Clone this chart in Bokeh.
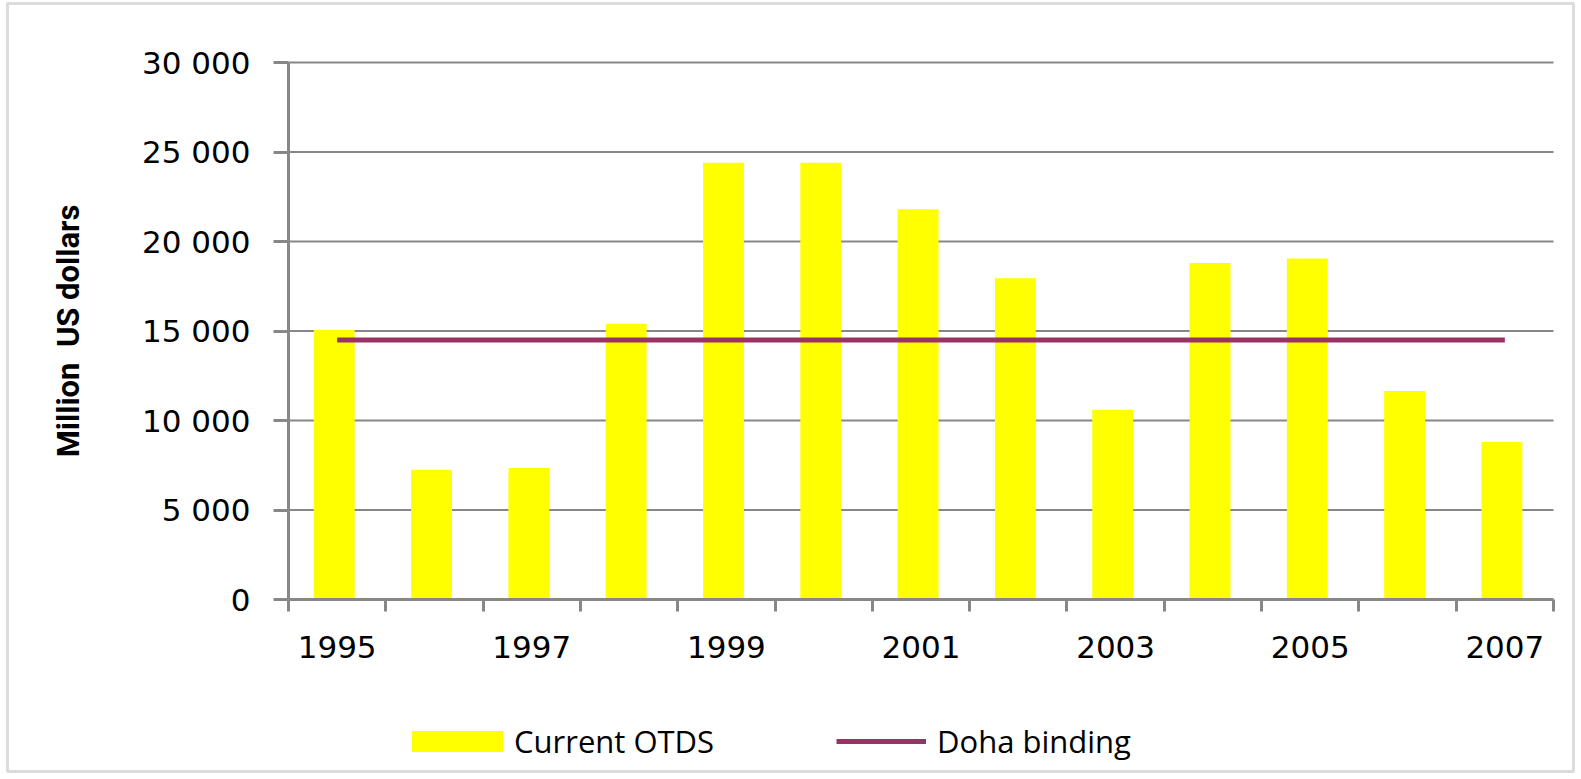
from bokeh.plotting import figure
from bokeh.models import (ColumnDataSource, FixedTicker, Legend, LegendItem,
                          BoxAnnotation)
from bokeh.transform import dodge
from bokeh.embed import file_html
from bokeh.resources import INLINE

# ---- data ----
years = [1995, 1996, 1997, 1998, 1999, 2000, 2001, 2002, 2003, 2004, 2005, 2006, 2007]
current_otds = [15050, 7250, 7350, 15400, 24400, 24400, 21800, 17950, 10600, 18800, 19050, 11650, 8800]
doha_binding = [14500] * len(years)
y_ticks = [0, 5000, 10000, 15000, 20000, 25000, 30000]
y_tick_labels = ["0", "5 000", "10 000", "15 000", "20 000", "25 000", "30 000"]
x_label_years = [1995, 1997, 1999, 2001, 2003, 2005, 2007]
y_title = "Million\u00a0 US dollars"
series_names = ["Current OTDS", "Doha binding"]

# ---- layout (pixels) ----
W, H = 1578, 778
PX_LEFT, PX_RIGHT, PX_TOP, PX_ZERO = 288, 1553, 62, 599
GRAY = "#878787"

x_lo, x_hi = years[0] - 0.5, years[-1] + 0.5
y_lo, y_hi = y_ticks[0], y_ticks[-1]
ux = (x_hi - x_lo) / (PX_RIGHT - PX_LEFT)      # data units per pixel
uy = (y_hi - y_lo) / (PX_ZERO - PX_TOP)
x_range = (x_lo - PX_LEFT * ux, x_hi + (W - PX_RIGHT) * ux)
y_range = (y_lo - (H - PX_ZERO) * uy, y_hi + PX_TOP * uy)

src = ColumnDataSource(dict(year=years, otds=current_otds, doha=doha_binding))
grid_src = ColumnDataSource(dict(y=y_ticks[1:], x0=[x_lo] * (len(y_ticks) - 1),
                                 x1=[x_hi] * (len(y_ticks) - 1)))

p = figure(width=W, height=H, output_backend="svg", toolbar_location=None,
           x_range=x_range, y_range=y_range,
           min_border=0, min_border_left=0, min_border_right=0,
           min_border_top=0, min_border_bottom=0,
           outline_line_color=None,
           background_fill_color="white", border_fill_color="white")
p.xgrid.visible = False
p.ygrid.visible = False

# horizontal gridlines
p.segment(x0="x0", x1="x1", y0="y", y1="y", source=grid_src,
          line_color=GRAY, line_width=2)

bars = p.vbar(x=dodge("year", -0.03, range=p.x_range), top="otds", width=0.42,
              source=src, fill_color="#FFFF00", line_color=None)
line = p.line(x="year", y="doha", source=src, line_color="#993366", line_width=5)

# y axis
ya = p.yaxis[0]
ya.fixed_location = x_lo
ya.bounds = (y_lo, y_hi)
ya.ticker = FixedTicker(ticks=y_ticks)
ya.major_label_overrides = {t: l for t, l in zip(y_ticks, y_tick_labels)}
ya.axis_line_color = GRAY
ya.axis_line_width = 3
ya.major_tick_line_color = GRAY
ya.major_tick_line_width = 3
ya.major_tick_out = 15
ya.major_tick_in = 0
ya.minor_tick_line_color = None
ya.major_label_text_font = "DejaVu Sans"
ya.major_label_text_font_size = "31px"
ya.major_label_text_color = "black"
ya.major_label_standoff = 23
ya.axis_label = y_title
ya.axis_label_text_font = "'Liberation Sans Narrow', 'Roboto', sans-serif"
ya.axis_label_text_font_style = "bold"
ya.axis_label_text_font_size = "31px"
ya.axis_label_text_color = "black"
ya.axis_label_standoff = 52

# x axis: labels at centres of odd years, ticks at category boundaries
xa = p.xaxis[0]
xa.fixed_location = y_lo
xa.bounds = (x_lo, x_hi)
xa.ticker = FixedTicker(ticks=x_label_years,
                        minor_ticks=[y - 0.5 for y in years] + [years[-1] + 0.5])
xa.major_label_overrides = {y: str(y) for y in x_label_years}
xa.axis_line_color = GRAY
xa.axis_line_width = 3
xa.major_tick_line_color = None
xa.major_tick_out = 0
xa.major_tick_in = 0
xa.minor_tick_line_color = GRAY
xa.minor_tick_line_width = 3
xa.minor_tick_out = 12
xa.minor_tick_in = 0
xa.major_label_text_font = "DejaVu Sans"
xa.major_label_text_font_size = "31px"
xa.major_label_text_color = "black"
xa.major_label_standoff = 24


def make_legend(name, renderer, x, gw, gh, standoff):
    lg = Legend(items=[LegendItem(label=name, renderers=[renderer])],
                location=(x, H - 762), orientation="horizontal",
                border_line_color=None, background_fill_alpha=0,
                padding=0, margin=0, glyph_width=gw, glyph_height=gh,
                label_standoff=standoff, label_text_font="Open Sans",
                label_text_font_size="31px", label_text_color="black",
                label_height=21)
    p.add_layout(lg, "center")


make_legend(series_names[0], bars, 400, 114, 26, 0)
make_legend(series_names[1], line, 836, 90, 26, 11)

# outer chart border
p.add_layout(BoxAnnotation(left=7, right=1573, top=7, bottom=775,
                           left_units="screen", right_units="screen",
                           top_units="screen", bottom_units="screen",
                           fill_color=None, fill_alpha=0,
                           line_color=GRAY, line_width=3))

open("out.html", "w").write(file_html(p, INLINE))
